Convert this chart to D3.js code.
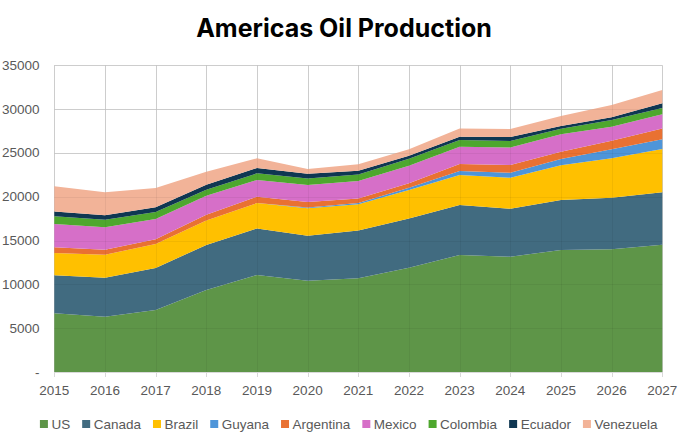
<!DOCTYPE html>
<html>
<head>
<meta charset="utf-8">
<script src="https://cdn.jsdelivr.net/npm/d3@7"></script>
<style>
  body { margin: 0; background: #ffffff; }
  svg { display: block; }
  text { font-family: "Liberation Sans", Arial, sans-serif; }
</style>
</head>
<body>
<div id="chart"></div>
<script>
// values (cumulative tops turned back into per-country values)
var years = [2015, 2016, 2017, 2018, 2019, 2020, 2021, 2022, 2023, 2024, 2025, 2026, 2027];

var US        = [6700, 6310, 7080, 9350, 11070, 10420, 10690, 11900, 13350, 13160, 13920, 14000, 14530];
var Canada    = [4330, 4450, 4790, 5150, 5320, 5130, 5460, 5630, 5700, 5480, 5710, 5890, 5970];
var Brazil    = [2550, 2630, 2730, 2800, 2890, 3130, 3000, 3240, 3430, 3530, 3950, 4490, 4940];
var Guyana    = [0, 0, 0, 0, 0, 100, 150, 260, 450, 570, 720, 1030, 1110];
var Argentina = [650, 570, 540, 650, 720, 630, 500, 500, 800, 880, 840, 980, 1250];
var Mexico    = [2660, 2550, 2320, 2170, 1910, 1940, 1990, 2010, 1980, 2010, 1980, 1600, 1600];
var Colombia  = [870, 870, 800, 680, 760, 730, 760, 800, 760, 730, 640, 760, 720];
var Ecuador   = [560, 500, 530, 570, 610, 530, 420, 340, 380, 450, 310, 310, 540];
var Venezuela = [2890, 2620, 2200, 1490, 1100, 570, 730, 730, 950, 920, 1140, 1400, 1520];

var yTicks = [0, 5000, 10000, 15000, 20000, 25000, 30000, 35000];

var series = [
  {id:"US", label:"US", values:US, colour:"#5e9548"},
  {id:"Canada", label:"Canada", values:Canada, colour:"#416b80"},
  {id:"Brazil", label:"Brazil", values:Brazil, colour:"#ffc000"},
  {id:"Guyana", label:"Guyana", values:Guyana, colour:"#4e95d9"},
  {id:"Argentina", label:"Argentina", values:Argentina, colour:"#e97132"},
  {id:"Mexico", label:"Mexico", values:Mexico, colour:"#d66fc8"},
  {id:"Colombia", label:"Colombia", values:Colombia, colour:"#4ea72e"},
  {id:"Ecuador", label:"Ecuador", values:Ecuador, colour:"#0f3752"},
  {id:"Venezuela", label:"Venezuela", values:Venezuela, colour:"#f2b398"}
];

var width = 683, height = 446;
// plot box (note: "top" is reserved on window, so use plot* names)
var plotLeft = 54.3, plotRight = 662.3, plotTop = 65.3, plotBottom = 372;

// build rows for d3.stack
var rows = years.map(function(yr, i) {
  var row = {year: yr};
  series.forEach(function(s) { row[s.id] = s.values[i]; });
  return row;
});

var svg = d3.select("#chart").append("svg")
  .attr("width", width)
  .attr("height", height);

var x = d3.scaleLinear().domain([2015, 2027]).range([plotLeft, plotRight]);
var y = d3.scaleLinear().domain([0, 35000]).range([plotBottom, plotTop]);

function drawGrid(g, stroke, opacity) {
  g.selectAll(".hgrid").data(yTicks.slice(1)).enter()
    .append("line")
    .attr("x1", plotLeft).attr("x2", plotRight)
    .attr("y1", function(d) { return Math.round(y(d)) + 0.5; })
    .attr("y2", function(d) { return Math.round(y(d)) + 0.5; })
    .style("stroke", stroke).style("stroke-opacity", opacity).style("stroke-width", 1);
  g.selectAll(".vgrid").data(years).enter()
    .append("line")
    .attr("x1", function(d) { return Math.round(x(d)) + 0.5; })
    .attr("x2", function(d) { return Math.round(x(d)) + 0.5; })
    .attr("y1", plotTop).attr("y2", plotBottom)
    .style("stroke", stroke).style("stroke-opacity", opacity).style("stroke-width", 1);
}
// gridlines behind
drawGrid(svg.append("g"), "#d9d9d9", 1);

var stack = d3.stack().keys(series.map(function(s) { return s.id; }));
var layers = stack(rows);

var area = d3.area()
  .x(function(d) { return x(d.data.year); })
  .y0(function(d) { return y(d[0]); })
  .y1(function(d) { return y(d[1]); });

svg.append("g").selectAll("path")
  .data(layers)
  .enter()
  .append("path")
  .attr("d", area)
  .attr("fill", function(d, i) { return series[i].colour; });

// faint gridlines showing through the areas
drawGrid(svg.append("g"), "#000000", 0.05);

// x axis
var xAxis = svg.append("g");
xAxis.append("line")
  .attr("x1", plotLeft).attr("x2", plotRight)
  .attr("y1", plotBottom + 0.5).attr("y2", plotBottom + 0.5)
  .style("stroke", "#d9d9d9");
xAxis.selectAll(".tick").data(years).enter()
  .append("line")
  .attr("x1", function(d) { return Math.round(x(d)) + 0.5; })
  .attr("x2", function(d) { return Math.round(x(d)) + 0.5; })
  .attr("y1", plotBottom).attr("y2", plotBottom + 5)
  .style("stroke", "#d9d9d9");
xAxis.selectAll("text").data(years).enter()
  .append("text")
  .attr("x", function(d) { return x(d); })
  .attr("y", 395)
  .attr("text-anchor", "middle")
  .style("font-size", "13.5px")
  .style("fill", "#595959")
  .text(function(d) { return d; });

// y axis labels
svg.append("g").selectAll("text").data(yTicks).enter()
  .append("text")
  .attr("x", 39.5)
  .attr("y", function(d) { return y(d) + 4.5; })
  .attr("text-anchor", "end")
  .style("font-size", "13.5px")
  .style("fill", "#595959")
  .text(function(d) { return d == 0 ? "-" : d; });

// title
svg.append("text")
  .attr("x", 344)
  .attr("y", 37)
  .attr("text-anchor", "middle")
  .style("font-family", "Inter, 'Open Sans', sans-serif")
  .style("font-weight", "700")
  .style("font-size", "25px")
  .style("fill", "#000000")
  .text("Americas Oil Production");

// legend, one row, centred under the plot
var legend = svg.append("g");
var entries = legend.selectAll(".legendEntry")
  .data(series)
  .enter()
  .append("g")
  .attr("class", "legendEntry");

entries.each(function(d) {
  d3.select(this).append("rect")
    .attr("width", 8).attr("height", 8)
    .attr("y", -4)
    .attr("fill", d.colour);
  d3.select(this).append("text")
    .attr("x", 11.5)
    .attr("y", 4.8)
    .style("font-size", "13.5px")
    .style("fill", "#595959")
    .text(d.label);
});

var pos = 0;
var offsets = [];
entries.each(function(d) {
  offsets.push(pos);
  var w = 11.5 + d3.select(this).select("text").node().getComputedTextLength();
  pos += w + 12;
});
var total = pos - 12;
var start = 348.7 - total / 2;
entries.attr("transform", function(d, i) {
  return "translate(" + (start + offsets[i]) + ",424)";
});
</script>
</body>
</html>
